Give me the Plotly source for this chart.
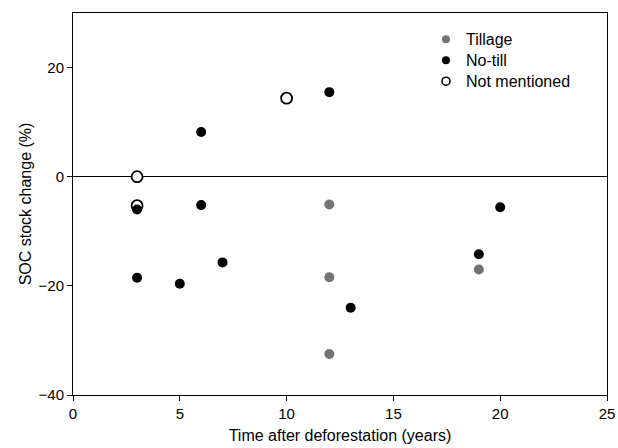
import plotly.graph_objects as go

# SOC stock change after deforestation, by tillage practice
tillage_years = [12, 12, 12, 19]
tillage_change = [-5.1, -18.4, -32.5, -17.0]

notill_years = [3, 3, 5, 6, 6, 7, 12, 13, 19, 20]
notill_change = [-6.0, -18.5, -19.6, 8.2, -5.2, -15.7, 15.5, -24.0, -14.2, -5.6]

notmentioned_years = [3, 3, 10]
notmentioned_change = [0.0, -5.3, 14.4]

x_ticks = [0, 5, 10, 15, 20, 25]
y_ticks = [-40, -20, 0, 20]

font_family = "Liberation Sans, Arial, sans-serif"
gray = "#747474"

series = [
    # name, x, y, marker in plot, marker in legend, legend id
    ("Not mentioned", notmentioned_years, notmentioned_change,
     dict(size=11, color="white", line=dict(color="black", width=1.8)),
     dict(size=8, color="white", line=dict(color="black", width=1.6)), "legend3"),
    ("No-till", notill_years, notill_change,
     dict(size=10, color="black", line=dict(width=0)),
     dict(size=8, color="black", line=dict(width=0)), "legend2"),
    ("Tillage", tillage_years, tillage_change,
     dict(size=10, color=gray, line=dict(width=0)),
     dict(size=8, color=gray, line=dict(width=0)), "legend"),
]

fig = go.Figure()

for name, xs, ys, mk, _, _ in series:
    fig.add_trace(go.Scatter(x=xs, y=ys, mode="markers", name=name,
                             marker=mk, showlegend=False))

# legend entries with smaller symbols, one legend box per row for tight spacing
for name, _, _, _, lmk, leg in series:
    fig.add_trace(go.Scatter(x=[None], y=[None], mode="markers", name=name,
                             marker=lmk, legend=leg, showlegend=True))

axis_common = dict(
    showline=True, linecolor="black", linewidth=1, mirror=True,
    ticks="outside", ticklen=5, tickcolor="black", showgrid=False,
    automargin=False,
    tickfont=dict(size=15, color="black", family=font_family),
)

fig.update_xaxes(
    range=[0, 25], tickvals=x_ticks, zeroline=False,
    title=dict(text="Time after deforestation (years)", standoff=8,
               font=dict(size=16, color="black", family=font_family)),
    **axis_common,
)
fig.update_yaxes(
    range=[-40, 30], tickvals=y_ticks, ticktext=["\u221240", "\u221220", "0", "20"],
    zeroline=True, zerolinecolor="black", zerolinewidth=1,
    title=dict(text="SOC stock change (%)", standoff=2,
               font=dict(size=16, color="black", family=font_family)),
    **axis_common,
)

legend_style = dict(
    x=0.661, xanchor="left", yanchor="top",
    bgcolor="rgba(0,0,0,0)", font=dict(size=16, family=font_family, color="black"),
    itemwidth=30,
)

fig.update_layout(
    width=618, height=448,
    margin=dict(l=73, r=11, t=13, b=53),
    plot_bgcolor="white", paper_bgcolor="white",
    font=dict(family=font_family, color="black", size=15),
    legend=dict(y=0.9757, **legend_style),
    legend2=dict(y=0.9207, **legend_style),
    legend3=dict(y=0.8657, **legend_style),
)

fig.write_html("out.html")
